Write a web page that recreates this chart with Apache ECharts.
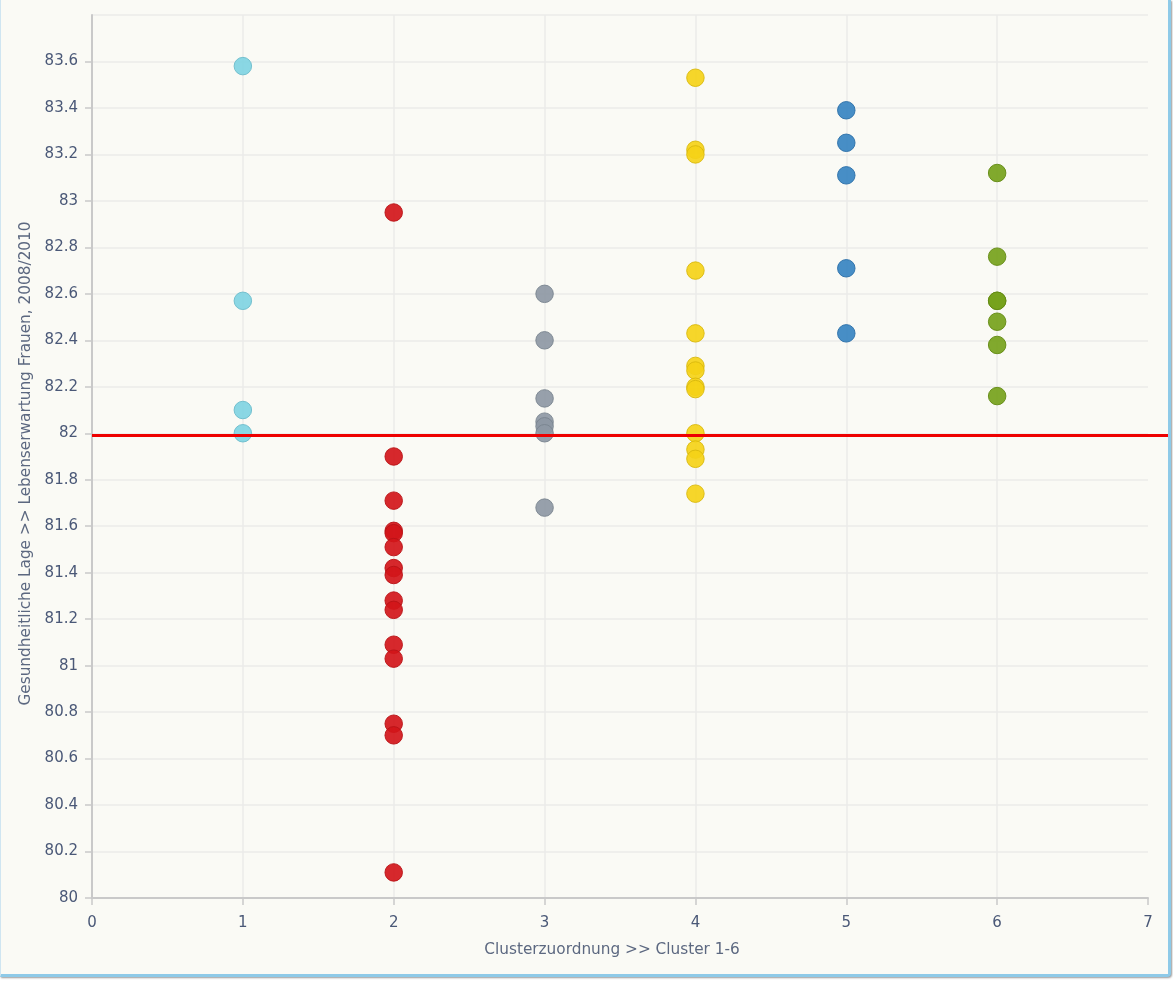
<!DOCTYPE html>
<html>
<head>
<meta charset="utf-8">
<title>Clusterzuordnung – Lebenserwartung Frauen</title>
<script src="https://cdn.jsdelivr.net/npm/echarts@6/dist/echarts.min.js"></script>
<style>
  html, body { margin: 0; padding: 0; background: #ffffff; }
  #frame {
    position: absolute; left: 0; top: 0;
    width: 1167px; height: 974px;
    background: #fafaf5;
    border-left: 1px solid #cfe5f1;
    border-right: 3px solid #8ecae8;
    border-bottom: 3px solid #8ecae8;
    border-bottom-right-radius: 4px;
    box-shadow: 1px 1px 2px #9a9a9a;
  }
  #chart { position: absolute; left: 0; top: 0; width: 1173px; height: 981px; }
</style>
</head>
<body>
<div id="frame"></div>
<div id="chart"></div>
<script>
// Lebenserwartung Frauen 2008/2010 je Kreis, gruppiert nach Cluster 1-6
const cluster1 = [83.58, 82.57, 82.10, 82.00];
const cluster2 = [82.95, 81.90, 81.71, 81.58, 81.57, 81.51, 81.42, 81.39, 81.28, 81.24, 81.09, 81.03, 80.75, 80.70, 80.11];
const cluster3 = [82.60, 82.40, 82.15, 82.05, 82.03, 82.00, 81.68];
const cluster4 = [83.53, 83.22, 83.20, 82.70, 82.43, 82.29, 82.27, 82.20, 82.19, 82.00, 81.93, 81.89, 81.74];
const cluster5 = [83.39, 83.25, 83.11, 82.71, 82.43];
const cluster6 = [83.12, 82.76, 82.57, 82.57, 82.48, 82.38, 82.16];

const clusterValues = [cluster1, cluster2, cluster3, cluster4, cluster5, cluster6];
const clusterColors = ['#80d4e2', '#d2161a', '#8e98a4', '#f5d318', '#3784c1', '#76a21b'];
const clusterBorders = ['#6cbccb', '#b81216', '#7a848f', '#d9b90c', '#2c70a8', '#638a12'];

// Referenzwert (Durchschnitt)
const referenceValue = 81.99;

const xTicks = { min: 0, max: 7, interval: 1 };
const yTicks = { min: 80, max: 83.8, interval: 0.2 };

const labelColor = '#4a5877';
const nameColor = '#5c6880';
const fontFamily = '"DejaVu Sans", Verdana, sans-serif';

const series = clusterValues.map((vals, i) => ({
  type: 'scatter',
  name: 'Cluster ' + (i + 1),
  symbol: 'circle',
  symbolSize: 17.5,
  data: vals.map(v => [i + 1, v]),
  itemStyle: {
    color: clusterColors[i],
    borderColor: clusterBorders[i],
    borderWidth: 1,
    opacity: 0.92
  },
  z: 3
}));

series.push({
  type: 'line',
  name: 'Referenz',
  data: [],
  clip: false,
  silent: true,
  markLine: {
    symbol: 'none',
    silent: true,
    label: { show: false },
    lineStyle: { color: '#ee0000', width: 3, type: 'solid' },
    data: [[
      { xAxis: xTicks.min, yAxis: referenceValue },
      { x: 1168, yAxis: referenceValue }
    ]]
  },
  z: 5
});

const chart = echarts.init(document.getElementById('chart'), null, { renderer: 'canvas' });
chart.setOption({
  backgroundColor: 'transparent',
  animation: false,
  grid: { left: 92, right: 25, top: 15, bottom: 83, containLabel: false },
  xAxis: {
    type: 'value',
    min: xTicks.min, max: xTicks.max, interval: xTicks.interval,
    name: 'Clusterzuordnung >> Cluster 1-6',
    nameLocation: 'middle',
    nameGap: 45,
    nameTextStyle: { color: nameColor, fontSize: 15.3, fontFamily: fontFamily, padding: [0, 16, 0, 0] },
    axisLine: { show: true, lineStyle: { color: '#c9c9c9', width: 2 } },
    axisTick: { show: true, length: 7, lineStyle: { color: '#c9c9c9', width: 1.5 } },
    axisLabel: { color: labelColor, fontSize: 15, fontFamily: fontFamily, margin: 18 },
    splitLine: { show: true, showMinLine: false, showMaxLine: false, lineStyle: { color: '#ebebe8', width: 1.5 } }
  },
  yAxis: {
    type: 'value',
    min: yTicks.min, max: yTicks.max, interval: yTicks.interval,
    name: 'Gesundheitliche Lage >> Lebenserwartung Frauen, 2008/2010',
    nameLocation: 'middle',
    nameGap: 58,
    nameTextStyle: { color: nameColor, fontSize: 15.3, fontFamily: fontFamily, padding: [0, 14, 0, 0] },
    axisLine: { show: true, lineStyle: { color: '#c9c9c9', width: 2 } },
    axisTick: { show: true, length: 7, lineStyle: { color: '#c9c9c9', width: 1.5 } },
    axisLabel: {
      color: labelColor, fontSize: 15, fontFamily: fontFamily, margin: 14,
      showMaxLabel: false,
      formatter: v => String(Math.round(v * 10) / 10)
    },
    splitLine: { show: true, lineStyle: { color: '#ebebe8', width: 1.5 } }
  },
  series: series
});
</script>
</body>
</html>
